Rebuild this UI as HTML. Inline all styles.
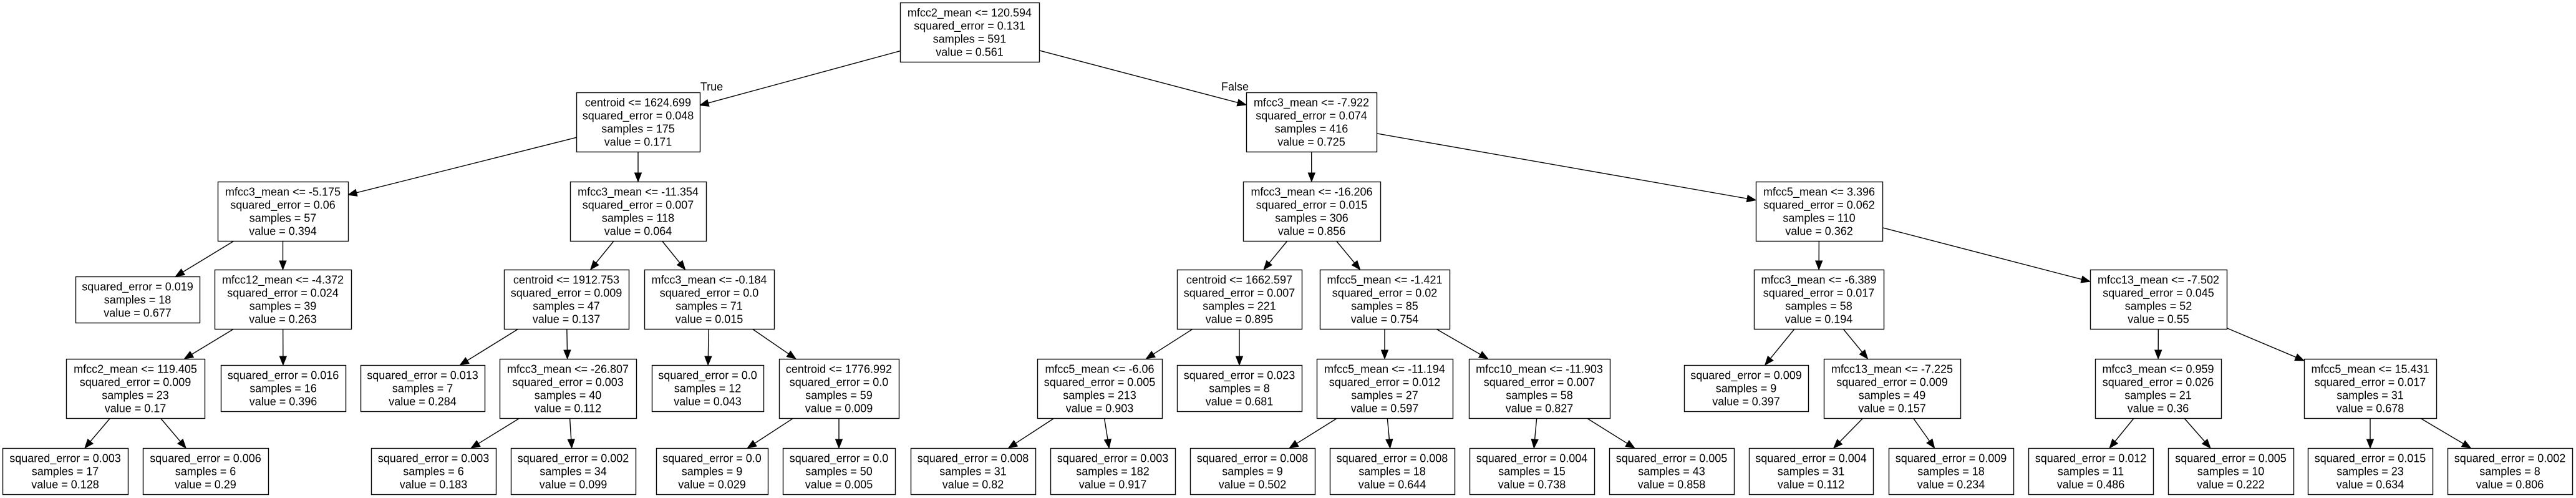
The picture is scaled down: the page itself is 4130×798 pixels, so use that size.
<!DOCTYPE html>
<html><head><meta charset="utf-8">
<style>
html,body{margin:0;padding:0;background:#fff;}
svg{display:block;}
text{font-family:"Liberation Sans",Arial,sans-serif;font-size:18px;fill:#000;}
</style></head>
<body>
<svg id="s" width="4130" height="798" viewBox="0 0 4130 798" xmlns="http://www.w3.org/2000/svg">
<rect width="4130" height="798" fill="#fff"/>
<text x="1141" y="145" text-anchor="middle">True</text>
<text x="1980" y="145" text-anchor="middle">False</text>
</svg>
<script>
(function(){
var N={
r:[1443,1666,4,["mfcc2_mean <= 120.594","squared_error = 0.131","samples = 591","value = 0.561"]],
a:[924,1122,148,["centroid <= 1624.699","squared_error = 0.048","samples = 175","value = 0.171"]],
b:[1998,2207,148,["mfcc3_mean <= -7.922","squared_error = 0.074","samples = 416","value = 0.725"]],
a1:[349,558,291,["mfcc3_mean <= -5.175","squared_error = 0.06","samples = 57","value = 0.394"]],
a2:[914,1132,291,["mfcc3_mean <= -11.354","squared_error = 0.007","samples = 118","value = 0.064"]],
a11:[121,320,443,["squared_error = 0.019","samples = 18","value = 0.677"]],
a12:[344,563,432,["mfcc12_mean <= -4.372","squared_error = 0.024","samples = 39","value = 0.263"]],
a121:[106,328,575,["mfcc2_mean <= 119.405","squared_error = 0.009","samples = 23","value = 0.17"]],
a122:[354,554,585,["squared_error = 0.016","samples = 16","value = 0.396"]],
a1211:[4,205,718,["squared_error = 0.003","samples = 17","value = 0.128"]],
a1212:[229,430,718,["squared_error = 0.006","samples = 6","value = 0.29"]],
a21:[808,1008,432,["centroid <= 1912.753","squared_error = 0.009","samples = 47","value = 0.137"]],
a22:[1033,1241,432,["mfcc3_mean <= -0.184","squared_error = 0.0","samples = 71","value = 0.015"]],
a211:[578,777,585,["squared_error = 0.013","samples = 7","value = 0.284"]],
a212:[801,1020,575,["mfcc3_mean <= -26.807","squared_error = 0.003","samples = 40","value = 0.112"]],
a2121:[595,795,718,["squared_error = 0.003","samples = 6","value = 0.183"]],
a2122:[819,1019,718,["squared_error = 0.002","samples = 34","value = 0.099"]],
a221:[1045,1224,585,["squared_error = 0.0","samples = 12","value = 0.043"]],
a222:[1249,1441,575,["centroid <= 1776.992","squared_error = 0.0","samples = 59","value = 0.009"]],
a2221:[1052,1231,718,["squared_error = 0.0","samples = 9","value = 0.029"]],
a2222:[1255,1435,718,["squared_error = 0.0","samples = 50","value = 0.005"]],
b1:[1993,2213,291,["mfcc3_mean <= -16.206","squared_error = 0.015","samples = 306","value = 0.856"]],
b2:[2815,3018,291,["mfcc5_mean <= 3.396","squared_error = 0.062","samples = 110","value = 0.362"]],
b11:[1887,2087,432,["centroid <= 1662.597","squared_error = 0.007","samples = 221","value = 0.895"]],
b12:[2116,2324,432,["mfcc5_mean <= -1.421","squared_error = 0.02","samples = 85","value = 0.754"]],
b111:[1663,1863,575,["mfcc5_mean <= -6.06","squared_error = 0.005","samples = 213","value = 0.903"]],
b112:[1887,2087,585,["squared_error = 0.023","samples = 8","value = 0.681"]],
b1111:[1460,1660,718,["squared_error = 0.008","samples = 31","value = 0.82"]],
b1112:[1684,1884,718,["squared_error = 0.003","samples = 182","value = 0.917"]],
b121:[2111,2329,575,["mfcc5_mean <= -11.194","squared_error = 0.012","samples = 27","value = 0.597"]],
b122:[2355,2581,575,["mfcc10_mean <= -11.903","squared_error = 0.007","samples = 58","value = 0.827"]],
b1211:[1908,2108,718,["squared_error = 0.008","samples = 9","value = 0.502"]],
b1212:[2132,2332,718,["squared_error = 0.008","samples = 18","value = 0.644"]],
b1221:[2356,2556,718,["squared_error = 0.004","samples = 15","value = 0.738"]],
b1222:[2580,2780,718,["squared_error = 0.005","samples = 43","value = 0.858"]],
b21:[2812,3020,432,["mfcc3_mean <= -6.389","squared_error = 0.017","samples = 58","value = 0.194"]],
b22:[3351,3570,432,["mfcc13_mean <= -7.502","squared_error = 0.045","samples = 52","value = 0.55"]],
b211:[2700,2899,585,["squared_error = 0.009","samples = 9","value = 0.397"]],
b212:[2924,3143,575,["mfcc13_mean <= -7.225","squared_error = 0.009","samples = 49","value = 0.157"]],
b2121:[2804,3003,718,["squared_error = 0.004","samples = 31","value = 0.112"]],
b2122:[3028,3228,718,["squared_error = 0.009","samples = 18","value = 0.234"]],
b221:[3359,3561,575,["mfcc3_mean <= 0.959","squared_error = 0.026","samples = 21","value = 0.36"]],
b222:[3694,3906,575,["mfcc5_mean <= 15.431","squared_error = 0.017","samples = 31","value = 0.678"]],
b2211:[3252,3452,718,["squared_error = 0.012","samples = 11","value = 0.486"]],
b2212:[3476,3677,718,["squared_error = 0.005","samples = 10","value = 0.222"]],
b2221:[3700,3900,718,["squared_error = 0.015","samples = 23","value = 0.634"]],
b2222:[3924,4124,718,["squared_error = 0.002","samples = 8","value = 0.806"]]
};
var E=[["r","a"],["r","b"],["a","a1"],["a","a2"],["a1","a11"],["a1","a12"],["a12","a121"],["a12","a122"],["a121","a1211"],["a121","a1212"],["a2","a21"],["a2","a22"],["a21","a211"],["a21","a212"],["a212","a2121"],["a212","a2122"],["a22","a221"],["a22","a222"],["a222","a2221"],["a222","a2222"],["b","b1"],["b","b2"],["b1","b11"],["b1","b12"],["b11","b111"],["b11","b112"],["b111","b1111"],["b111","b1112"],["b12","b121"],["b12","b122"],["b121","b1211"],["b121","b1212"],["b122","b1221"],["b122","b1222"],["b2","b21"],["b2","b22"],["b21","b211"],["b21","b212"],["b212","b2121"],["b212","b2122"],["b22","b221"],["b22","b222"],["b221","b2211"],["b221","b2212"],["b222","b2221"],["b222","b2222"]];
var s=document.getElementById("s"),out="";
function box(n){var d=N[n];var h=(d[3].length==4?95:74);return {x1:d[0],x2:d[1],y1:d[2],y2:d[2]+h,cx:(d[0]+d[1])/2,cy:d[2]+h/2};}
function clip(b,dx,dy){var t=1e9;if(dx)t=Math.min(t,((b.x2-b.x1)/2)/Math.abs(dx));if(dy)t=Math.min(t,((b.y2-b.y1)/2)/Math.abs(dy));return t;}
E.forEach(function(e){var p=box(e[0]),c=box(e[1]);var dx=c.cx-p.cx,dy=c.cy-p.cy;
var t0=clip(p,dx,dy),t1=1-clip(c,dx,dy);var sx=p.cx+dx*t0,sy=p.cy+dy*t0,ex=p.cx+dx*t1,ey=p.cy+dy*t1;
var L=Math.hypot(ex-sx,ey-sy),ux=(ex-sx)/L,uy=(ey-sy)/L,ah=14,aw=5.5;
var bx=ex-ux*ah,by=ey-uy*ah;
out+='<line x1="'+sx+'" y1="'+sy+'" x2="'+bx+'" y2="'+by+'" stroke="#000" stroke-width="1.4"/>';
out+='<polygon points="'+ex+','+ey+' '+(bx-uy*aw)+','+(by+ux*aw)+' '+(bx+uy*aw)+','+(by-ux*aw)+'" fill="#000" stroke="#000" stroke-width="1"/>';});
for(var n in N){var d=N[n],b=box(n);
out+='<rect x="'+(b.x1+0.5)+'" y="'+(b.y1+0.5)+'" width="'+(b.x2-b.x1)+'" height="'+(b.y2-b.y1)+'" fill="#fff" stroke="#000" stroke-width="1.4"/>';
var k=d[3].length,ty=b.y1+(b.y2-b.y1)/2-(k-1)*21/2;
for(var i=0;i<k;i++){out+='<text x="'+b.cx+'" y="'+(ty+i*21+6.5)+'" text-anchor="middle">'+d[3][i].replace(/</g,"&lt;")+'</text>';}}
s.insertAdjacentHTML("beforeend",out);
})();
</script>
</body></html>
